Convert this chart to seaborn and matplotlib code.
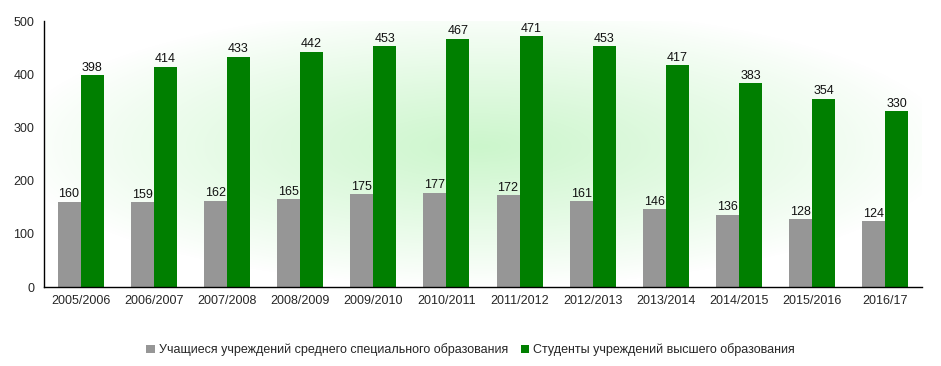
import numpy as np
import pandas as pd
import matplotlib
matplotlib.use("Agg")
import matplotlib.pyplot as plt
import seaborn as sns
from matplotlib.patches import Patch

years = ["2005/2006", "2006/2007", "2007/2008", "2008/2009", "2009/2010", "2010/2011",
         "2011/2012", "2012/2013", "2013/2014", "2014/2015", "2015/2016", "2016/17"]
secondary = [160, 159, 162, 165, 175, 177, 172, 161, 146, 136, 128, 124]
higher = [398, 414, 433, 442, 453, 467, 471, 453, 417, 383, 354, 330]
series_names = ["Учащиеся учреждений среднего специального образования",
                "Студенты учреждений высшего образования"]
colors = ["#969696", "#007F00"]

df = pd.DataFrame({
    "year": years * 2,
    "value": secondary + higher,
    "series": [series_names[0]] * len(years) + [series_names[1]] * len(years),
})

sns.set_style("white")
plt.rcParams["font.family"] = ["Liberation Sans", "DejaVu Sans"]
plt.rcParams["font.size"] = 9

fig = plt.figure(figsize=(9.41, 3.66), dpi=100)
ax = fig.add_axes([44 / 941, (366 - 287) / 366, 878 / 941, 266 / 366])

sns.barplot(data=df, x="year", y="value", hue="series", palette=colors,
            width=0.63, saturation=1, ax=ax, legend=False, zorder=2,
            linewidth=0, edgecolor="none")

# radial light-green background gradient
ny, nx = 266, 878
yy, xx = np.mgrid[0:ny, 0:nx]
cx, cy = 436, 125
r = np.sqrt(((xx - cx) / 470.0) ** 2 + ((yy - cy) / 140.0) ** 2)
t = np.clip(1 - r, 0, 1) ** 0.9
c0 = np.array([1.0, 1.0, 1.0])
c1 = np.array([0.80, 0.965, 0.80])
img = c0[None, None, :] * (1 - t[..., None]) + c1[None, None, :] * t[..., None]
ax.imshow(img, extent=[-0.5, len(years) - 0.5, 0, 500], aspect="auto", zorder=0,
          origin="upper", interpolation="bilinear")

ax.set_xlim(-0.5, len(years) - 0.5)
ax.set_ylim(0, 500)
ax.set_yticks([0, 100, 200, 300, 400, 500])
ax.set_xlabel("")
ax.set_ylabel("")

for cont in ax.containers:
    ax.bar_label(cont, fontsize=9, padding=1, color="#111111")

# x ticks at group boundaries
ax.set_xticks(np.arange(len(years)))
ax.set_xticklabels(years)
ax.set_xticks(np.arange(-0.5, len(years)), minor=True)
ax.tick_params(axis="x", which="major", length=0, pad=6, labelsize=9)
ax.tick_params(axis="x", which="minor", length=5, width=1, color="black", direction="out")
ax.tick_params(axis="y", which="major", length=5, width=1, color="black", direction="out",
               labelsize=9, pad=2)

for s in ["top", "right"]:
    ax.spines[s].set_visible(False)
for s in ["left", "bottom"]:
    ax.spines[s].set_color("black")
    ax.spines[s].set_linewidth(1)

handles = [Patch(facecolor=colors[0], edgecolor="none"), Patch(facecolor=colors[1], edgecolor="none")]
fig.legend(handles, series_names, loc="center", bbox_to_anchor=(0.5, 16 / 366),
           ncol=2, frameon=False, fontsize=9, handlelength=0.7, handleheight=0.7,
           handletextpad=0.3, columnspacing=1.0)

fig.savefig("out.png", dpi=100)
